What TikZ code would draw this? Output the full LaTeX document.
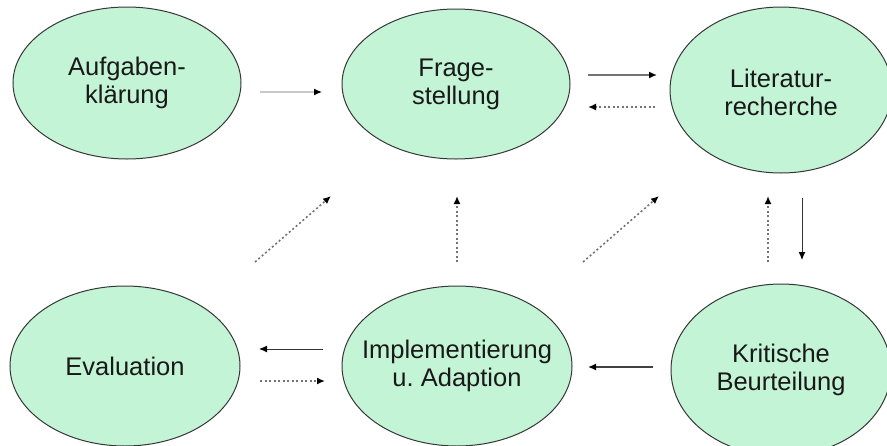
\documentclass[tikz,border=0pt]{standalone}
\usepackage{fontspec}
\setmainfont{Liberation Sans}
\usetikzlibrary{shapes.geometric,arrows.meta}
\definecolor{ellfill}{RGB}{196,244,214}
\definecolor{ellline}{RGB}{55,55,55}
\begin{document}
\frenchspacing
\begin{tikzpicture}[x=1pt,y=-1pt,
  phase/.style={ellipse,draw=ellline,line width=1pt,fill=ellfill,inner sep=0pt},
  phasetext/.style={align=center,font=\fontsize{25.5}{28}\selectfont,text=black!90},
  tip/.style={-{Latex[length=8pt,width=7pt,color=black]}},
  solidarrow/.style={tip,draw=black!75,line width=1.5pt},
  thinarrow/.style={tip,draw=black!80,line width=1pt},
  lightarrow/.style={tip,draw=black!22,line width=1.2pt},
  dotarrow/.style={tip,draw=black!55,line width=1.6pt,dash pattern=on 2pt off 2.5pt}]
\useasboundingbox (0,0) rectangle (887,445);
\fill[white] (0,0) rectangle (887,445);
\node[phase,minimum width=228pt,minimum height=152pt,
  label={[phasetext]center:Aufgaben-\\klärung}] (A) at (127,83) {};
\node[phase,minimum width=228pt,minimum height=150pt,
  label={[phasetext]center:Frage-\\stellung}] (F) at (456,84) {};
\node[phase,minimum width=222pt,minimum height=166pt,
  label={[phasetext,yshift=-2pt]center:Literatur-\\recherche}] (L) at (781,90) {};
\node[phase,minimum width=220pt,minimum height=172pt,
  label={[phasetext]center:Kritische\\Beurteilung}] (K) at (781,370) {};
\node[phase,minimum width=230pt,minimum height=160pt,
  label={[phasetext]center:Evaluation}] (E) at (125,366) {};
\node[phase,minimum width=230pt,minimum height=160pt,
  label={[phasetext]center:Implementierung\\u. Adaption}] (I) at (457,366) {};
% endpoints
\coordinate (af1) at (260,92);  \coordinate (af2) at (322,92);
\coordinate (fl1) at (588,75);  \coordinate (fl2) at (657,75);
\coordinate (lf1) at (655,107); \coordinate (lf2) at (588,107);
\coordinate (lk1) at (802,198); \coordinate (lk2) at (802,260);
\coordinate (kl1) at (768,262); \coordinate (kl2) at (768,196);
\coordinate (ki1) at (653,367); \coordinate (ki2) at (588,367);
\coordinate (ie1) at (323,349); \coordinate (ie2) at (259,349);
\coordinate (ei1) at (260,381); \coordinate (ei2) at (325,381);
\coordinate (ef1) at (255,262); \coordinate (ef2) at (331,196);
\coordinate (if1) at (457,262); \coordinate (if2) at (457,196);
\coordinate (kf1) at (583,262); \coordinate (kf2) at (659,196);
\draw[lightarrow] (af1) -- (af2);
\draw[solidarrow,draw=black!55] (fl1) -- (fl2);
\draw[dotarrow] (lf1) -- (lf2);
\draw[thinarrow] (lk1) -- (lk2);
\draw[dotarrow] (kl1) -- (kl2);
\draw[solidarrow] (ki1) -- (ki2);
\draw[thinarrow] (ie1) -- (ie2);
\draw[dotarrow] (ei1) -- (ei2);
\draw[dotarrow] (ef1) -- (ef2);
\draw[dotarrow] (if1) -- (if2);
\draw[dotarrow] (kf1) -- (kf2);
\end{tikzpicture}
\end{document}
